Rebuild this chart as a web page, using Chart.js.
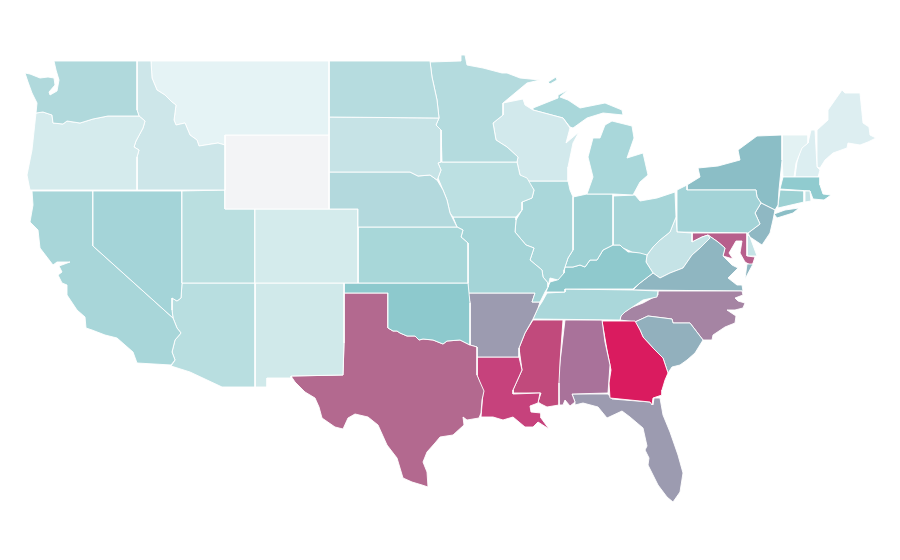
<!DOCTYPE html>
<html lang="en">
<head>
    <meta charset="UTF-8">
    <title>US states choropleth</title>
    <script src="https://cdn.jsdelivr.net/npm/chart.js"></script>
    <style>
        html, body { margin: 0; padding: 0; background: #fff; }
        #wrap { position: relative; width: 900px; height: 560px; }
    </style>
</head>
<body>
    <div id="wrap"><canvas id="map" width="900" height="560"></canvas></div>

    <script>
        // State outlines, as [x, y] in map units
        const washington = [[54,61],[137,61],[137,110],[139,116],[108,116],[93,119],[80,123],[67,121],[63,124],[53,123],[52,115],[43,112],[36,113],[37,103],[32,93],[28,82],[25,73],[30,74],[40,78],[48,77],[54,78],[55,85],[49,92],[50,95],[57,91],[59,80],[56,70]];
        const oregon = [[36,113],[43,112],[52,115],[53,123],[63,124],[67,121],[80,123],[93,119],[108,116],[139,116],[145,121],[143,128],[136,141],[134,147],[139,150],[137,157],[137,190],[30,190],[27,175],[32,150]];
        const idaho = [[137,61],[151,61],[152,78],[157,90],[165,95],[172,102],[176,105],[174,120],[176,125],[185,123],[190,135],[197,140],[199,146],[218,143],[225,145],[225,190],[137,190],[137,157],[139,150],[134,147],[136,141],[143,128],[145,121],[139,116],[137,110]];
        const montana = [[151,61],[329,61],[329,135],[225,135],[225,145],[218,143],[199,146],[197,140],[190,135],[185,123],[176,125],[174,120],[176,105],[172,102],[165,95],[157,90],[152,78]];
        const wyoming = [[225,135],[329,135],[329,209],[225,209]];
        const northDakota = [[329,61],[430,61],[432,77],[437,100],[439,118],[329,117]];
        const southDakota = [[329,117],[439,118],[436,125],[441,130],[441,162],[438,163],[441,170],[438,178],[437,180],[430,175],[418,176],[410,172],[329,172]];
        const nebraska = [[329,172],[410,172],[418,176],[430,175],[437,180],[443,190],[447,200],[450,213],[457,227],[358,227],[358,209],[329,209]];
        const colorado = [[255,209],[358,209],[358,283],[255,283]];
        const utah = [[182,191],[225,190],[225,209],[255,209],[255,283],[182,283]];
        const nevada = [[93,191],[182,191],[182,283],[181,298],[177,301],[172,298],[172,310],[173,318],[93,246]];
        const california = [[32,191],[93,191],[93,246],[173,318],[177,328],[181,333],[175,340],[172,352],[175,360],[171,365],[137,363],[133,352],[125,345],[117,338],[105,335],[92,330],[86,328],[85,317],[77,310],[67,295],[67,285],[62,283],[58,275],[62,272],[59,266],[70,262],[57,262],[53,265],[40,248],[38,230],[30,222],[33,205]];
        const arizona = [[182,283],[255,283],[255,387],[222,387],[190,372],[171,366],[175,360],[172,352],[175,340],[181,333],[177,328],[173,318],[172,310],[172,298],[177,301],[181,298]];
        const newMexico = [[255,283],[344,283],[344,293],[344,343],[343,375],[291,376],[291,378],[267,378],[267,387],[255,387]];
        const kansas = [[358,227],[457,227],[463,230],[461,237],[468,243],[468,283],[358,283]];
        const oklahoma = [[344,283],[468,283],[469,293],[470,303],[470,345],[460,340],[447,341],[443,344],[433,340],[423,339],[419,340],[415,336],[407,336],[400,333],[397,331],[393,331],[388,328],[388,293],[344,293]];
        const texas = [[344,293],[388,293],[388,328],[393,331],[397,331],[400,333],[407,336],[415,336],[419,340],[423,339],[433,340],[443,344],[447,341],[460,340],[470,345],[477,347],[477,375],[480,382],[484,391],[482,400],[481,413],[479,418],[467,420],[463,417],[464,425],[453,435],[440,437],[435,443],[427,452],[423,462],[427,472],[428,487],[422,485],[412,482],[403,478],[397,458],[387,445],[378,425],[368,417],[355,414],[348,418],[343,429],[335,427],[322,418],[319,407],[315,398],[305,392],[295,382],[291,376],[343,375],[344,343]];
        const minnesota = [[430,62],[461,61],[461,55],[465,55],[467,65],[483,68],[502,73],[507,73],[520,78],[540,80],[527,83],[503,103],[503,115],[493,123],[496,140],[507,147],[518,157],[517,162],[442,162],[441,130],[436,125],[439,118],[437,100],[432,77]];
        const iowa = [[441,162],[517,162],[520,175],[527,178],[534,190],[532,198],[522,202],[522,210],[516,217],[453,217],[450,213],[447,200],[443,190],[438,178],[441,170],[438,163]];
        const missouri = [[453,217],[516,217],[516,220],[515,232],[526,245],[534,248],[530,260],[542,270],[543,277],[548,283],[548,287],[545,292],[540,302],[532,302],[535,293],[468,293],[468,243],[461,237],[463,230],[457,227]];
        const arkansas = [[468,293],[535,293],[532,302],[540,302],[538,308],[533,319],[525,333],[519,348],[519,357],[477,357],[477,347],[470,345],[470,303]];
        const louisiana = [[477,357],[519,357],[522,370],[513,390],[513,394],[540,393],[538,403],[530,406],[531,412],[541,413],[541,418],[549,429],[538,422],[533,427],[525,427],[513,417],[503,420],[493,417],[481,417],[483,392],[477,375]];
        const wisconsin = [[503,103],[523,99],[525,105],[533,110],[563,118],[570,128],[566,143],[579,132],[573,143],[568,167],[568,181],[527,181],[520,175],[517,162],[518,157],[507,147],[496,140],[493,123],[503,115]];
        const michiganUpper = [[533,108],[558,98],[558,95],[568,90],[560,97],[568,100],[580,108],[605,103],[622,110],[623,115],[603,113],[587,118],[573,128],[570,127],[563,118],[533,110]];
        const michiganLower = [[612,121],[632,126],[634,138],[627,158],[643,153],[648,175],[640,182],[633,195],[613,194],[587,194],[593,177],[588,157],[593,138],[600,138],[605,125]];
        const isleRoyale = [[548,82],[556,77],[557,80],[550,84]];
        const illinois = [[527,181],[568,181],[570,190],[573,197],[573,238],[573,250],[568,258],[564,270],[564,273],[558,280],[550,278],[548,287],[548,283],[543,277],[542,270],[530,260],[534,248],[526,245],[515,232],[516,220],[522,210],[522,202],[532,198],[534,190]];
        const indiana = [[573,197],[587,194],[613,194],[613,245],[603,250],[597,260],[590,260],[585,267],[580,265],[573,267],[565,267],[568,258],[573,250],[573,238]];
        const ohio = [[613,196],[635,195],[640,201],[657,198],[675,192],[676,217],[670,232],[660,240],[653,247],[647,255],[640,253],[632,252],[623,248],[620,245],[613,245]];
        const kentucky = [[613,245],[620,245],[628,252],[642,252],[647,255],[646,262],[653,273],[640,283],[633,289],[565,289],[565,292],[546,292],[550,282],[557,280],[564,273],[565,267],[573,267],[580,265],[585,267],[590,260],[597,260],[603,250]];
        const tennessee = [[547,293],[565,292],[565,289],[633,290],[658,291],[657,297],[643,300],[625,312],[621,316],[620,320],[533,319],[538,308],[542,302]];
        const mississippi = [[533,320],[563,320],[560,362],[559,383],[559,405],[547,407],[541,404],[538,402],[541,393],[513,393],[513,390],[522,370],[519,348],[525,333]];
        const alabama = [[565,320],[602,320],[605,342],[610,365],[608,393],[572,394],[575,402],[570,406],[565,400],[563,405],[559,405],[558,383],[560,362]];
        const georgia = [[602,321],[635,321],[640,330],[643,337],[653,348],[663,358],[668,373],[665,380],[662,390],[662,395],[653,398],[652,405],[650,402],[610,398],[609,383],[611,370],[607,350]];
        const florida = [[572,394],[608,394],[612,399],[650,402],[653,405],[654,398],[660,398],[663,415],[670,432],[678,455],[683,473],[680,492],[673,502],[667,497],[658,485],[648,465],[649,458],[645,450],[647,446],[643,428],[630,417],[622,411],[607,418],[598,407],[583,403],[575,405],[575,402]];
        const southCarolina = [[635,322],[648,316],[672,319],[673,323],[690,323],[703,340],[695,353],[687,360],[680,365],[672,367],[668,373],[663,358],[653,348],[643,337],[640,330]];
        const northCarolina = [[658,291],[742,291],[743,295],[735,298],[738,301],[745,303],[743,308],[735,310],[727,310],[736,316],[735,323],[725,327],[713,335],[712,340],[703,340],[690,323],[673,323],[672,319],[648,316],[635,322],[620,320],[621,315],[630,308],[643,303],[658,295]];
        const virginia = [[708,235],[718,242],[725,248],[723,256],[732,265],[738,268],[728,278],[737,285],[742,285],[743,291],[633,290],[640,283],[653,273],[660,278],[670,273],[683,268],[692,255],[700,248],[710,238]];
        const virginiaShore = [[753,264],[745,279],[747,264]];
        const westVirginia = [[676,217],[677,232],[692,233],[692,242],[702,237],[708,235],[710,238],[700,248],[692,255],[683,268],[670,273],[660,278],[653,273],[646,262],[647,255],[653,247],[660,240],[670,232]];
        const maryland = [[692,233],[747,233],[747,256],[755,257],[752,266],[745,262],[740,253],[742,241],[736,241],[729,253],[733,259],[723,256],[725,248],[718,242],[708,235],[702,237],[692,242]];
        const delaware = [[747,234],[750,237],[757,256],[747,256],[747,243]];
        const pennsylvania = [[677,190],[687,185],[687,190],[756,190],[757,197],[761,203],[755,213],[760,224],[748,233],[677,232]];
        const newJersey = [[761,203],[775,210],[773,220],[770,233],[762,245],[750,237],[748,233],[760,224],[755,213]];
        const newYork = [[687,185],[700,177],[698,168],[718,166],[740,160],[738,150],[757,136],[782,135],[782,160],[779,190],[778,205],[775,210],[761,203],[757,197],[756,190],[687,190]];
        const longIsland = [[774,214],[785,210],[799,208],[793,213],[777,218]];
        const connecticut = [[780,190],[804,191],[804,202],[778,208],[778,205]];
        const rhodeIsland = [[805,191],[810,191],[811,201],[805,202]];
        const massachusetts = [[783,177],[817,177],[820,177],[820,185],[823,194],[831,195],[824,200],[813,199],[810,191],[780,189]];
        const vermont = [[782,135],[808,135],[808,143],[802,148],[796,163],[794,177],[783,177],[782,160]];
        const newHampshire = [[811,130],[815,130],[817,167],[820,170],[818,177],[795,177],[797,162],[801,148],[808,143]];
        const maine = [[817,130],[828,120],[828,110],[842,90],[845,93],[860,93],[863,123],[869,127],[870,135],[876,138],[868,142],[860,145],[848,143],[847,148],[833,153],[825,160],[820,168],[817,167]];

        const shapes = [washington, oregon, idaho, montana, wyoming, northDakota, southDakota, nebraska, colorado, utah, nevada, california, arizona, newMexico, kansas, oklahoma, texas, minnesota, iowa, missouri, arkansas, louisiana, wisconsin, michiganUpper, michiganLower, isleRoyale, illinois, indiana, ohio, kentucky, tennessee, mississippi, alabama, georgia, florida, southCarolina, northCarolina, virginia, virginiaShore, westVirginia, maryland, delaware, pennsylvania, newJersey, newYork, longIsland, connecticut, rhodeIsland, massachusetts, vermont, newHampshire, maine];
        const names = ['Washington', 'Oregon', 'Idaho', 'Montana', 'Wyoming', 'North Dakota', 'South Dakota', 'Nebraska', 'Colorado', 'Utah', 'Nevada', 'California', 'Arizona', 'New Mexico', 'Kansas', 'Oklahoma', 'Texas', 'Minnesota', 'Iowa', 'Missouri', 'Arkansas', 'Louisiana', 'Wisconsin', 'Michigan', 'Michigan', 'Michigan', 'Illinois', 'Indiana', 'Ohio', 'Kentucky', 'Tennessee', 'Mississippi', 'Alabama', 'Georgia', 'Florida', 'South Carolina', 'North Carolina', 'Virginia', 'Virginia', 'West Virginia', 'Maryland', 'Delaware', 'Pennsylvania', 'New Jersey', 'New York', 'New York', 'Connecticut', 'Rhode Island', 'Massachusetts', 'Vermont', 'New Hampshire', 'Maine'];
        const colors = ['#b0d9dc', '#d5ebed', '#cde6e9', '#e5f3f5', '#f3f4f6', '#b6dcdf', '#c6e3e6', '#b3d9dd', '#d4ebec', '#badfe0', '#a4d4d8', '#a8d6d9', '#b8dee0', '#d0e9ea', '#a8d7d9', '#8dc9cd', '#b3698f', '#b4dbde', '#bce0e2', '#a4d4d7', '#9c9bb0', '#c6427c', '#d2e9ec', '#a9d7da', '#a9d7da', '#a9d7da', '#aad7da', '#9ed1d4', '#a6d5d8', '#8fc9cd', '#aad7da', '#c14a7c', '#a9729a', '#da1b5f', '#9c9bb0', '#92b0bd', '#a584a3', '#8fb6c1', '#8fb6c1', '#c5e3e6', '#b75f8c', '#c5e3e6', '#a3d3d7', '#8fb8c3', '#8bbec6', '#8bbec6', '#9dd1d3', '#c5e3e6', '#90cbcf', '#e3f2f3', '#dceef1', '#ddeef1'];

        const datasets = shapes.map((shape, i) => ({
            label: names[i],
            data: shape.concat([shape[0]]),
            backgroundColor: colors[i],
            borderColor: '#ffffff',
            borderWidth: 0.9,
            borderJoinStyle: 'round',
            fill: 'shape',
            tension: 0,
            pointRadius: 0,
            pointHoverRadius: 0
        }));

        new Chart(document.getElementById('map').getContext('2d'), {
            type: 'line',
            data: { datasets },
            options: {
                responsive: false,
                animation: false,
                layout: { padding: 0 },
                plugins: {
                    legend: { display: false },
                    tooltip: { enabled: false }
                },
                scales: {
                    x: { type: 'linear', min: 0, max: 900, display: false },
                    y: { type: 'linear', min: 0, max: 560, reverse: true, display: false }
                }
            }
        });
    </script>
</body>
</html>
